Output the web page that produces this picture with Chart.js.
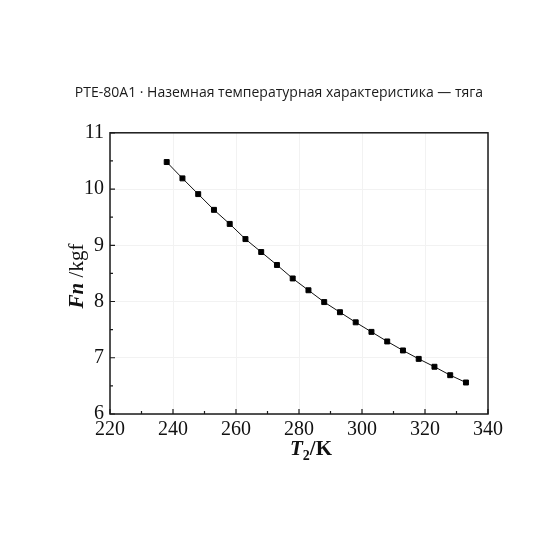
<!DOCTYPE html>
<html>
<head>
<meta charset="utf-8">
<script src="https://cdn.jsdelivr.net/npm/chart.js@4"></script>
<style>
  html, body { margin: 0; padding: 0; background: #fff; }
  #wrap { width: 560px; height: 560px; }
</style>
</head>
<body>
<div id="wrap"><canvas id="thrustChart"></canvas></div>
<script>
// chart data
var chartTitle = 'PTE-80A1 · Наземная температурная характеристика — тяга';
var temps = [238, 243, 248, 253, 258, 263, 268, 273, 278, 283, 288, 293, 298, 303, 308, 313, 318, 323, 328, 333];
var thrust = [10.48, 10.19, 9.91, 9.63, 9.38, 9.11, 8.88, 8.65, 8.41, 8.20, 7.99, 7.81, 7.63, 7.46, 7.29, 7.13, 6.98, 6.84, 6.69, 6.56];
var xTicks = [220, 240, 260, 280, 300, 320, 340];
var yTicks = [6, 7, 8, 9, 10, 11];
var xMinor = [230, 250, 270, 290, 310, 330];
var yMinor = [6.5, 7.5, 8.5, 9.5, 10.5];

var serif = '"Liberation Serif", "Times New Roman", serif';

// draw a run of text pieces with different fonts, centred on x
function drawRich(ctx, parts, cx, y) {
  var total = 0;
  parts.forEach(function (p) { ctx.font = p.font; total += ctx.measureText(p.text).width; });
  var x = cx - total / 2;
  parts.forEach(function (p) {
    ctx.font = p.font;
    ctx.fillText(p.text, x, y + (p.dy || 0));
    x += ctx.measureText(p.text).width;
  });
}

// frame, inward ticks and axis titles
var framePlugin = {
  id: 'frame',
  afterDraw: function (chart) {
    var ctx = chart.ctx, a = chart.chartArea;
    var xs = chart.scales.x, ys = chart.scales.y;
    ctx.save();
    ctx.strokeStyle = '#1a1a1a';
    ctx.lineWidth = 1.5;
    ctx.strokeRect(a.left, a.top, a.right - a.left, a.bottom - a.top);

    ctx.lineWidth = 1.2;
    ctx.beginPath();
    xTicks.forEach(function (v) { var px = xs.getPixelForValue(v); ctx.moveTo(px, a.bottom); ctx.lineTo(px, a.bottom - 5); });
    xMinor.forEach(function (v) { var px = xs.getPixelForValue(v); ctx.moveTo(px, a.bottom); ctx.lineTo(px, a.bottom - 3); });
    yTicks.forEach(function (v) { var py = ys.getPixelForValue(v); ctx.moveTo(a.left, py); ctx.lineTo(a.left + 5, py); });
    yMinor.forEach(function (v) { var py = ys.getPixelForValue(v); ctx.moveTo(a.left, py); ctx.lineTo(a.left + 3, py); });
    ctx.stroke();

    ctx.fillStyle = '#111';
    ctx.textBaseline = 'alphabetic';
    ctx.textAlign = 'left';
    drawRich(ctx, [
      { text: 'T', font: 'italic bold 21px ' + serif },
      { text: '2', font: 'bold 14px ' + serif, dy: 5 },
      { text: '/K', font: 'bold 21px ' + serif }
    ], 311, 455);

    ctx.translate(83, 276);
    ctx.rotate(-Math.PI / 2);
    drawRich(ctx, [
      { text: 'Fn', font: 'italic bold 21px ' + serif },
      { text: ' /kgf', font: '21px ' + serif }
    ], 0, 0);
    ctx.restore();
  }
};

var ctx = document.getElementById('thrustChart').getContext('2d');
var thrustChart = new Chart(ctx, {
  type: 'line',
  data: {
    datasets: [{
      data: temps.map(function (t, i) { return { x: t, y: thrust[i] }; }),
      borderColor: '#111',
      borderWidth: 1,
      backgroundColor: '#000',
      pointStyle: 'rect',
      pointRadius: 3.5,
      pointBorderWidth: 1,
      pointBorderColor: '#000',
      tension: 0
    }]
  },
  options: {
    responsive: true,
    maintainAspectRatio: false,
    animation: false,
    events: [],
    layout: { padding: { left: 70, right: 72, top: 0, bottom: 116 } },
    plugins: {
      legend: { display: false },
      tooltip: { enabled: false },
      title: {
        display: true,
        text: chartTitle,
        color: '#1a1a1a',
        font: { family: '"Open Sans", "Noto Sans", sans-serif', size: 14, weight: 'normal' },
        padding: { top: 85, bottom: 31 }
      }
    },
    scales: {
      x: {
        type: 'linear',
        min: 220,
        max: 340,
        afterFit: function (s) { s.height = 30; },
        afterBuildTicks: function (s) { s.ticks = xTicks.map(function (v) { return { value: v }; }); },
        grid: { color: '#f2f2f2', drawTicks: false },
        border: { display: false },
        ticks: { color: '#111', padding: 4, maxRotation: 0, font: { family: serif, size: 20 } }
      },
      y: {
        min: 6,
        max: 11,
        afterFit: function (s) { s.width = 40; },
        afterBuildTicks: function (s) { s.ticks = yTicks.map(function (v) { return { value: v }; }); },
        grid: { color: '#f2f2f2', drawTicks: false },
        border: { display: false },
        ticks: { color: '#111', padding: 6, font: { family: serif, size: 20 } }
      }
    }
  },
  plugins: [framePlugin]
});
</script>
</body>
</html>
